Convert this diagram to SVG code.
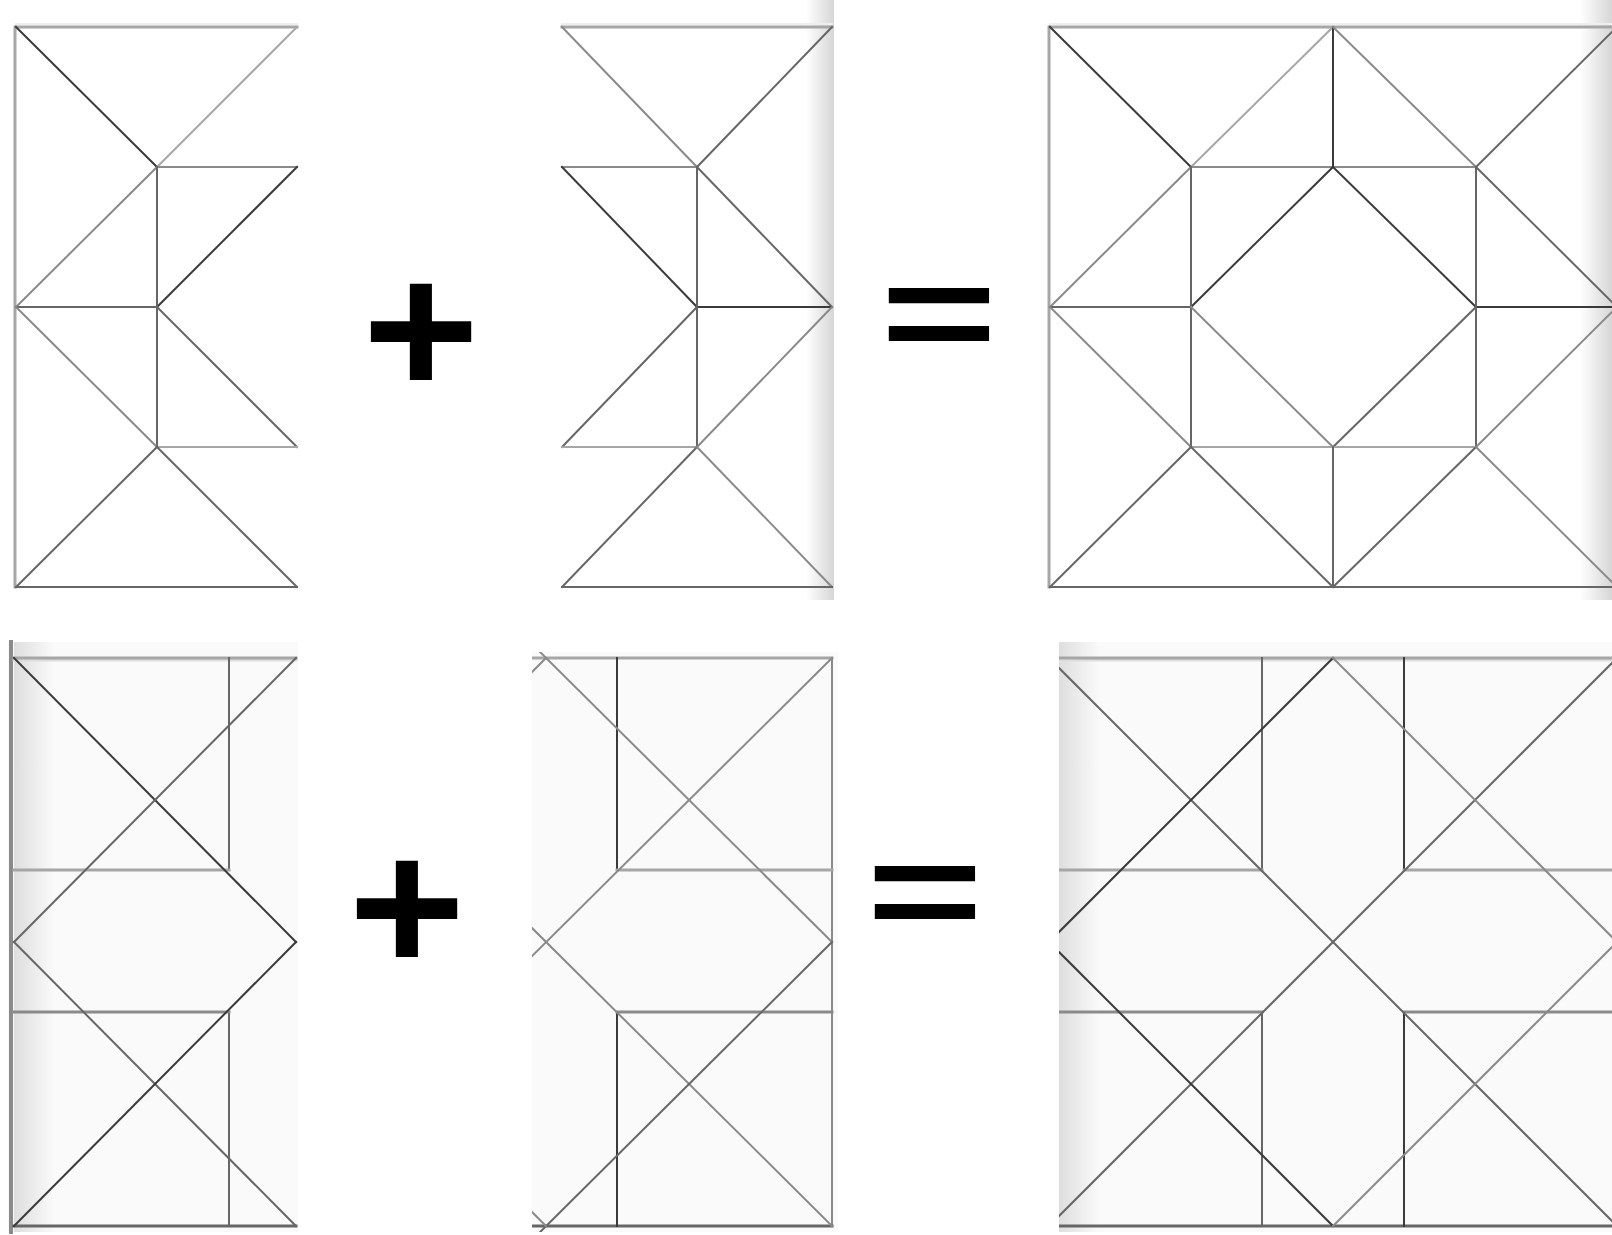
<svg xmlns="http://www.w3.org/2000/svg" width="1612" height="1235" viewBox="0 0 1612 1235">
<style>
line{fill:none;stroke-width:2;stroke-linecap:square}
.k1{stroke:#3a3a3a}
.k2{stroke:#666}
.k3{stroke:#8a8a8a}
.k4{stroke:#a6a6a6}
.w3{stroke-width:3}
.w4{stroke-width:4}
.op{font-family:"Liberation Sans",Arial,sans-serif;font-weight:bold;font-size:200px;fill:#000;text-anchor:middle}
</style>
<defs>
<linearGradient id="fadeR" x1="0" x2="1" y1="0" y2="0">
<stop offset="0" stop-color="#ffffff"/>
<stop offset="1" stop-color="#d6d6d6"/>
</linearGradient>
<linearGradient id="fadeL" x1="0" x2="1" y1="0" y2="0">
<stop offset="0" stop-color="#dedede"/>
<stop offset="1" stop-color="#fafafa"/>
</linearGradient>
<clipPath id="clipE"><rect x="532" y="652" width="306" height="580"/></clipPath>
<clipPath id="clipF"><rect x="1059" y="642" width="553" height="590"/></clipPath>
</defs>
<rect width="1612" height="1235" fill="#fff"/>

<g id="panel-a">
<line x1="16" y1="24" x2="297" y2="24" stroke="#eee"/>
<line class="k4 w3" x1="16" y1="27" x2="297" y2="27"/>
<line class="k4 w3" x1="15" y1="27" x2="15" y2="587"/>
<line class="k2" x1="16" y1="587" x2="297" y2="587"/>
<line class="k1" x1="16" y1="27" x2="157" y2="167"/>
<line class="k4" x1="297" y1="27" x2="157" y2="167"/>
<line class="k3" x1="157" y1="167" x2="297" y2="167"/>
<line class="k3" x1="157" y1="167" x2="16" y2="307"/>
<line class="k1" x1="297" y1="167" x2="157" y2="307"/>
<line class="k2" x1="157" y1="167" x2="157" y2="447"/>
<line class="k2" x1="16" y1="307" x2="157" y2="307"/>
<line class="k3" x1="16" y1="307" x2="157" y2="447"/>
<line class="k2" x1="157" y1="307" x2="297" y2="447"/>
<line class="k4" x1="157" y1="447" x2="297" y2="447"/>
<line class="k2" x1="157" y1="447" x2="16" y2="587"/>
<line class="k2" x1="157" y1="447" x2="297" y2="587"/>
</g>

<g id="panel-b">
<rect x="806" y="0" width="28" height="600" fill="url(#fadeR)"/>
<line x1="562" y1="24" x2="832" y2="24" stroke="#eee"/>
<line class="k4 w3" x1="562" y1="27" x2="832" y2="27"/>
<line class="k3" x1="562" y1="27" x2="697" y2="167"/>
<line class="k2" x1="832" y1="27" x2="697" y2="167"/>
<line class="k3" x1="562" y1="167" x2="697" y2="167"/>
<line class="k1" x1="562" y1="167" x2="697" y2="307"/>
<line class="k2" x1="697" y1="167" x2="697" y2="447"/>
<line class="k2" x1="697" y1="167" x2="832" y2="307"/>
<line class="k1" x1="697" y1="307" x2="832" y2="307"/>
<line class="k2" x1="697" y1="307" x2="562" y2="447"/>
<line class="k3" x1="832" y1="307" x2="697" y2="447"/>
<line class="k4" x1="562" y1="447" x2="697" y2="447"/>
<line class="k2" x1="697" y1="447" x2="562" y2="587"/>
<line class="k3" x1="697" y1="447" x2="832" y2="587"/>
<line class="k2" x1="562" y1="587" x2="832" y2="587"/>
</g>

<g id="panel-c">
<rect x="1580" y="0" width="32" height="600" fill="url(#fadeR)"/>
<line x1="1050" y1="24" x2="1612" y2="24" stroke="#eee"/>
<line class="k4 w3" x1="1050" y1="27" x2="1617" y2="27"/>
<line class="k4 w3" x1="1049" y1="27" x2="1049" y2="587"/>
<line class="k2" x1="1050" y1="587" x2="1617" y2="587"/>
<line class="k1" x1="1050" y1="27" x2="1191" y2="167"/>
<line class="k4" x1="1333" y1="27" x2="1191" y2="167"/>
<line class="k1" x1="1333" y1="27" x2="1333" y2="167"/>
<line class="k3" x1="1333" y1="27" x2="1476" y2="167"/>
<line class="k2" x1="1617" y1="27" x2="1476" y2="167"/>
<line class="k3" x1="1191" y1="167" x2="1476" y2="167"/>
<line class="k3" x1="1191" y1="167" x2="1050" y2="307"/>
<line class="k1" x1="1333" y1="167" x2="1191" y2="307"/>
<line class="k1" x1="1333" y1="167" x2="1476" y2="307"/>
<line class="k2" x1="1476" y1="167" x2="1617" y2="307"/>
<line class="k2" x1="1191" y1="167" x2="1191" y2="447"/>
<line class="k2" x1="1476" y1="167" x2="1476" y2="447"/>
<line class="k2" x1="1050" y1="307" x2="1191" y2="307"/>
<line class="k1" x1="1476" y1="307" x2="1617" y2="307"/>
<line class="k3" x1="1050" y1="307" x2="1191" y2="447"/>
<line class="k3" x1="1191" y1="307" x2="1333" y2="447"/>
<line class="k2" x1="1476" y1="307" x2="1333" y2="447"/>
<line class="k3" x1="1617" y1="307" x2="1476" y2="447"/>
<line class="k4" x1="1191" y1="447" x2="1476" y2="447"/>
<line class="k2" x1="1333" y1="447" x2="1333" y2="587"/>
<line class="k2" x1="1191" y1="447" x2="1050" y2="587"/>
<line class="k2" x1="1191" y1="447" x2="1333" y2="587"/>
<line class="k2" x1="1476" y1="447" x2="1333" y2="587"/>
<line class="k3" x1="1476" y1="447" x2="1617" y2="587"/>
</g>

<g id="panel-d">
<rect x="8" y="642" width="290" height="590" fill="#fafafa"/>
<rect x="14" y="642" width="40" height="590" fill="url(#fadeL)"/>
<line class="k3 w4" x1="11" y1="642" x2="11" y2="1232"/>
<line x1="14" y1="660" x2="296" y2="660" stroke="#ddd" class="w3"/>
<line class="k4 w3" x1="14" y1="658" x2="296" y2="658"/>
<line class="k2 w3" x1="14" y1="1226" x2="296" y2="1226"/>
<line class="k2" x1="229" y1="658" x2="229" y2="870"/>
<line class="k2" x1="229" y1="1012" x2="229" y2="1226"/>
<line class="k4 w3" x1="14" y1="870" x2="229" y2="870"/>
<line class="k3 w3" x1="14" y1="1012" x2="229" y2="1012"/>
<line class="k1" x1="14" y1="658" x2="296" y2="942"/>
<line class="k2" x1="296" y1="658" x2="14" y2="942"/>
<line class="k2" x1="14" y1="942" x2="296" y2="1226"/>
<line class="k1" x1="296" y1="942" x2="14" y2="1226"/>
</g>

<g id="panel-e">
<rect x="532" y="652" width="306" height="580" fill="#fafafa"/>
<g clip-path="url(#clipE)">
<line class="k4 w3" x1="532" y1="658" x2="832" y2="658"/>
<line class="k3" x1="832" y1="658" x2="832" y2="1226"/>
<line class="k2 w3" x1="532" y1="1226" x2="832" y2="1226"/>
<line class="k1" x1="617" y1="658" x2="617" y2="870"/>
<line class="k1" x1="617" y1="1012" x2="617" y2="1226"/>
<line class="k4 w3" x1="617" y1="870" x2="832" y2="870"/>
<line class="k3 w3" x1="617" y1="1012" x2="832" y2="1012"/>
<line class="k3" x1="832" y1="658" x2="518" y2="970"/>
<line class="k3" x1="532" y1="644" x2="832" y2="942"/>
<line class="k3" x1="546" y1="658" x2="526" y2="678"/>
<line class="k3" x1="528" y1="924" x2="832" y2="1226"/>
<line class="k2" x1="832" y1="942" x2="518" y2="1254"/>
<line class="k3" x1="546" y1="1226" x2="526" y2="1206"/>
</g>
</g>

<g id="panel-f">
<rect x="1059" y="642" width="553" height="590" fill="#fafafa"/>
<rect x="1059" y="642" width="40" height="590" fill="url(#fadeL)"/>
<g clip-path="url(#clipF)">
<line x1="1059" y1="660" x2="1612" y2="660" stroke="#ddd" class="w3"/>
<line class="k4 w3" x1="1059" y1="658" x2="1612" y2="658"/>
<line class="k2 w3" x1="1059" y1="1226" x2="1612" y2="1226"/>
<line class="k2" x1="1262" y1="658" x2="1262" y2="870"/>
<line class="k2" x1="1262" y1="1012" x2="1262" y2="1226"/>
<line class="k1" x1="1404" y1="658" x2="1404" y2="870"/>
<line class="k1" x1="1404" y1="1012" x2="1404" y2="1226"/>
<line class="k4 w3" x1="1059" y1="870" x2="1262" y2="870"/>
<line class="k4 w3" x1="1404" y1="870" x2="1612" y2="870"/>
<line class="k3 w3" x1="1059" y1="1012" x2="1262" y2="1012"/>
<line class="k3 w3" x1="1404" y1="1012" x2="1612" y2="1012"/>
<line class="k2" x1="1049" y1="658" x2="1617" y2="1226"/>
<line class="k2" x1="1049" y1="1226" x2="1617" y2="658"/>
<line class="k1" x1="1333" y1="658" x2="1049" y2="942"/>
<line class="k3" x1="1333" y1="658" x2="1617" y2="942"/>
<line class="k1" x1="1049" y1="942" x2="1333" y2="1226"/>
<line class="k3" x1="1617" y1="942" x2="1333" y2="1226"/>
</g>
</g>

<g id="plus-1"><text class="op" transform="translate(421,394.5) scale(1,0.95)">+</text></g>
<g id="equals-1"><text class="op" transform="translate(939,361) scale(1,0.7)">=</text></g>
<g id="plus-2"><text class="op" transform="translate(407,972) scale(1,0.95)">+</text></g>
<g id="equals-2"><text class="op" transform="translate(925,939) scale(1,0.7)">=</text></g>
</svg>
